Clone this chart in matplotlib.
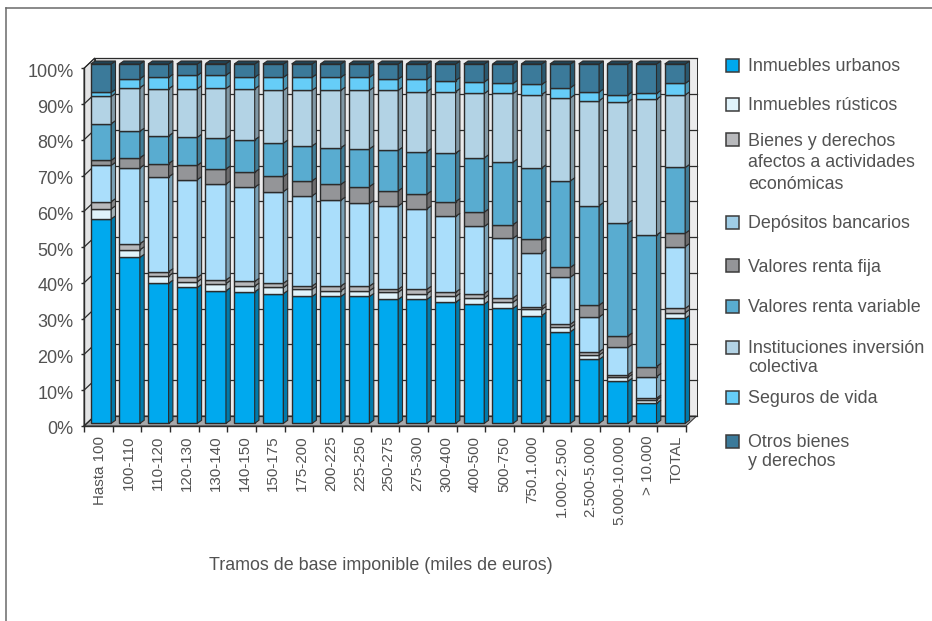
#!/usr/bin/env python

import numpy as np
import matplotlib
matplotlib.use("Agg")
import matplotlib.pyplot as plt
from matplotlib.lines import Line2D
from matplotlib.patches import Polygon, Rectangle
from matplotlib.colors import to_rgb
from matplotlib.transforms import ScaledTranslation

plt.rcParams['font.family'] = ['Liberation Sans', 'DejaVu Sans']

tramos = ["Hasta 100", "100-110", "110-120", "120-130", "130-140", "140-150", "150-175",
          "175-200", "200-225", "225-250", "250-275", "275-300", "300-400", "400-500",
          "500-750", "750.1.000", "1.000-2.500", "2.500-5.000", "5.000-10.000", "> 10.000", "TOTAL"]

urbanos = [56.9, 46.2, 39.0, 37.8, 36.9, 36.6, 36.1, 35.3, 35.3, 35.3, 34.5,
           34.5, 33.7, 33.2, 32.0, 30.0, 25.5, 17.8, 11.7, 5.6, 29.2]
rusticos = [2.8, 2.1, 2.0, 1.6, 2.0, 1.6, 1.7, 2.0, 1.6, 1.6, 2.0,
            1.6, 1.6, 1.7, 1.7, 1.7, 1.2, 1.2, 1.1, 0.9, 1.6]
afectos = [2.0, 1.7, 1.2, 1.2, 1.0, 1.3, 1.2, 0.9, 1.3, 1.3, 0.8,
           1.2, 1.2, 1.2, 1.2, 0.8, 0.9, 0.9, 0.7, 0.5, 1.2]
depositos = [10.1, 21.1, 26.4, 27.2, 26.7, 26.2, 25.5, 25.1, 23.9, 23.0, 23.2,
             22.4, 21.1, 18.7, 16.6, 15.0, 13.1, 9.7, 7.6, 6.0, 17.2]
renta_fija = [1.4, 2.8, 3.7, 4.0, 4.2, 4.2, 4.2, 4.2, 4.4, 4.7, 4.2,
              4.1, 4.1, 4.0, 3.8, 3.7, 2.7, 3.3, 3.2, 2.8, 3.7]
renta_variable = [10.2, 7.4, 7.7, 7.8, 8.5, 9.0, 9.3, 9.7, 10.2, 10.5, 11.3,
                  11.8, 13.5, 15.1, 17.4, 19.9, 24.1, 27.7, 31.4, 36.6, 18.3]
instituciones = [7.6, 12.1, 13.1, 13.5, 13.9, 14.2, 14.7, 15.5, 16.0, 16.3, 16.7,
                 16.7, 17.1, 17.9, 19.1, 20.4, 23.1, 29.2, 33.7, 37.8, 20.2]
seguros = [1.1, 2.5, 3.2, 3.7, 3.7, 3.2, 3.6, 3.6, 3.6, 3.6, 3.1,
           3.5, 3.1, 3.2, 2.8, 2.8, 2.8, 2.4, 2.0, 1.6, 3.2]
otros = [7.9, 4.1, 3.7, 3.2, 3.2, 3.7, 3.7, 3.7, 3.7, 3.7, 4.2,
         4.2, 4.6, 5.0, 5.4, 5.7, 6.6, 7.8, 8.6, 8.2, 5.4]

series = [urbanos, rusticos, afectos, depositos, renta_fija, renta_variable, instituciones, seguros, otros]
colores = ["#00a9ee", "#e0f3fb", "#b8b9bc", "#aadefb", "#949598", "#59acd0", "#b3d3e5", "#66cdf8", "#3b7a9a"]
colores_leyenda = ["#00a9ee", "#e0f3fb", "#b8b9bc", "#9fcde6", "#949598", "#59acd0", "#b3d3e5", "#66cdf8", "#3b7a9a"]
leyenda = ["Inmuebles urbanos", "Inmuebles rústicos", "Bienes y derechos\nafectos a actividades\neconómicas",
           "Depósitos bancarios", "Valores renta fija", "Valores renta variable",
           "Instituciones inversión\ncolectiva", "Seguros de vida", "Otros bienes\ny derechos"]
leyenda_y = [65, 104, 140, 222, 266, 306, 347, 397, 441]
leyenda_sep = [1.13, 1.13, 1.33, 1.13, 1.13, 1.13, 1.13, 1.13, 1.13]

W, H = 932, 621
TXT = "#525252"
EDGE = "#2b2b2b"


def box(x0, y0, x1, y1):
    return [x0 / W, 1 - y1 / H, (x1 - x0) / W, (y1 - y0) / H]


def darker(c, f):
    return tuple(v * f for v in to_rgb(c))


fig = plt.figure(figsize=(W / 100, H / 100), dpi=100)

# frame, only top and left
fig.add_artist(Line2D([6 / W, 6 / W], [0, 1 - 7.5 / H], color="#6a6a6a", lw=1.1))
fig.add_artist(Line2D([6 / W, 1], [1 - 7.5 / H, 1 - 7.5 / H], color="#6a6a6a", lw=1.1))

# front plane: axis, walls, floor
ax = fig.add_axes(box(84, 68.3, 686, 426))
ax.set_xlim(0, 21)
ax.set_ylim(0, 100)
ax.patch.set_visible(False)
wx = 10.6 / (602 / 21)
wy = 10 / 3.577

ax.add_patch(Rectangle((wx, wy), 21, 100, fc="#ebebec", ec=EDGE, lw=0.7, clip_on=False, zorder=1))
ax.add_patch(Polygon([(0, 0), (wx, wy), (wx, 100 + wy), (0, 100)], fc="#e3e4e5", ec=EDGE, lw=0.7, clip_on=False, zorder=1))
ax.add_patch(Polygon([(0, 0), (21, 0), (21 + wx, wy), (wx, wy)], fc="#a7a8aa", ec=EDGE, lw=0.7, clip_on=False, zorder=1))
for v in range(0, 101, 10):
    ax.plot([wx, 21 + wx], [v + wy, v + wy], color=EDGE, lw=0.9, clip_on=False, zorder=2)
    ax.plot([0, wx], [v, v + wy], color=EDGE, lw=0.9, clip_on=False, zorder=2)

ax.set_yticks(range(0, 101, 10))
ax.set_yticklabels(["%d%%" % v for v in range(0, 101, 10)], fontsize=13, color=TXT)
ax.tick_params(axis='y', length=2.5, width=1.0, pad=5, color=EDGE)
# y labels sit 2 px under their ticks
for lab in ax.get_yticklabels():
    lab.set_transform(lab.get_transform() + ScaledTranslation(0, -2 / 100, fig.dpi_scale_trans))
ax.set_xticks(range(22))
ax.set_xticklabels([])
# labels drift slightly right of the tick centres in the original
ax.set_xticks(np.arange(21) * 1.0056 + 0.57, minor=True)
ax.set_xticklabels(tramos, minor=True, rotation=90, fontsize=10.9, color=TXT)
ax.tick_params(axis='x', which='major', length=4, width=1.0, color=EDGE)
ax.tick_params(axis='x', which='minor', length=0, pad=7)
for s in ['top', 'right']:
    ax.spines[s].set_visible(False)
for s in ['left', 'bottom']:
    ax.spines[s].set_color(EDGE)
    ax.spines[s].set_linewidth(1.0)

# bars sit a bit deeper than the axis
ax_b = fig.add_axes(box(86.6, 64, 689.3, 423.3))
ax_b.set_xlim(-0.5, 20.5)
ax_b.set_ylim(0, 100)
ax_b.axis('off')
x = np.arange(len(tramos))
ancho = 20.5 / 28.7
sx = 4.3 / 28.7
sy = 3 / 3.59

base = np.zeros(len(tramos))
for valores, color in zip(series, colores):
    valores = np.array(valores)
    ax_b.bar(x, valores, ancho, bottom=base, color=color, edgecolor=EDGE, linewidth=1.0, clip_on=False, zorder=3)
    for xi, b, v in zip(x, base, valores):
        r = xi + ancho / 2
        ax_b.add_patch(Polygon([(r, b), (r + sx, b + sy), (r + sx, b + v + sy), (r, b + v)],
                               fc=darker(color, 0.72), ec=EDGE, lw=0.8, clip_on=False, zorder=3))
    base = base + valores

# tops of the last segment
for xi, t in zip(x, base):
    l = xi - ancho / 2
    r = xi + ancho / 2
    ax_b.add_patch(Polygon([(l, t), (r, t), (r + sx, t + sy), (l + sx, t + sy)],
                           fc=darker(colores[-1], 0.55), ec=EDGE, lw=0.8, clip_on=False, zorder=3))

fig.text(381 / W, 1 - 565 / H, "Tramos de base imponible (miles de euros)", ha='center', va='center',
         fontsize=12.85, color=TXT)

# legend
for nombre, color, yp, sep in zip(leyenda, colores_leyenda, leyenda_y, leyenda_sep):
    fig.add_artist(Rectangle((725.5 / W, 1 - (yp + 6.5) / H), 13 / W, 13 / H, fc=color, ec="#3a3a3a", lw=1.1,
                             transform=fig.transFigure))
    fig.text(748 / W, 1 - (yp - 7) / H, nombre, ha='left', va='top', fontsize=12.9, color=TXT, linespacing=sep)

fig.savefig("out.png", dpi=100)
